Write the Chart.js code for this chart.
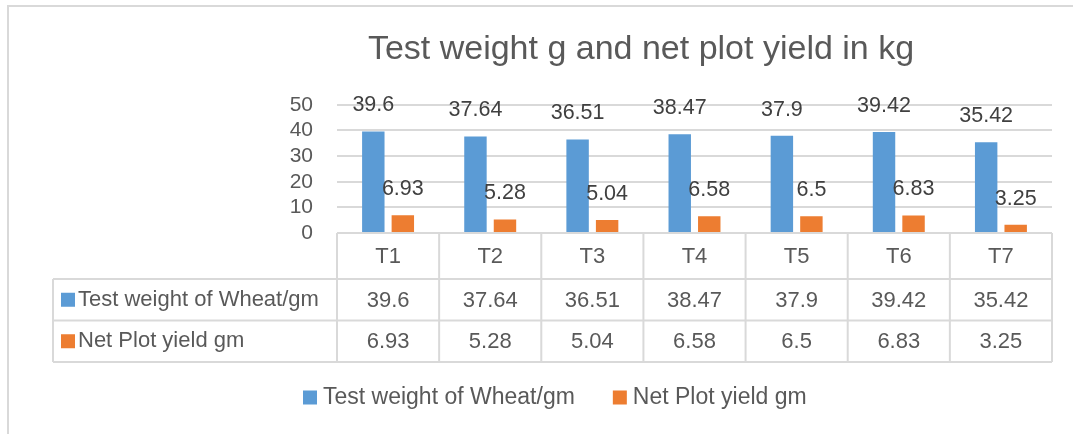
<!DOCTYPE html>
<html>
<head>
<meta charset="utf-8">
<script src="https://cdn.jsdelivr.net/npm/chart.js@4.4.1/dist/chart.umd.min.js"></script>
<style>
  html, body { margin: 0; padding: 0; background: #ffffff; overflow: hidden; }
  #wrap { position: relative; width: 1073px; height: 434px; }
  #frame { position: absolute; left: 7px; top: 5px; right: -4px; bottom: -4px;
           border-left: 2px solid #d9d9d9; border-top: 2px solid #d9d9d9; }
  canvas { position: absolute; left: 0; top: 0; }
</style>
</head>
<body>
<div id="wrap">
  <div id="frame"></div>
  <canvas id="chart" width="1073" height="434"></canvas>
</div>
<script>
const categories = ['T1', 'T2', 'T3', 'T4', 'T5', 'T6', 'T7'];
const testWeight = [39.6, 37.64, 36.51, 38.47, 37.9, 39.42, 35.42];
const netPlotYield = [6.93, 5.28, 5.04, 6.58, 6.5, 6.83, 3.25];
const yTicks = [0, 10, 20, 30, 40, 50];

const FONT = '"Liberation Sans", Arial, sans-serif';
const textGrey = '#595959';
const lineGrey = '#d9d9d9';

// value labels above each bar
const barLabels = {
    id: 'barLabels',
    afterDatasetsDraw(chart) {
        const ctx = chart.ctx;
        ctx.save();
        ctx.font = '21.5px ' + FONT;
        ctx.fillStyle = '#404040';
        ctx.textAlign = 'center';
        ctx.textBaseline = 'middle';
        chart.data.datasets.forEach((ds, di) => {
            chart.getDatasetMeta(di).data.forEach((bar, i) => {
                ctx.fillText(String(ds.data[i]), bar.x, bar.y - 26);
            });
        });
        ctx.restore();
    }
};

// data table under the plot + legend at the bottom
const dataTable = {
    id: 'dataTable',
    afterDraw(chart) {
        const ctx = chart.ctx;
        const area = chart.chartArea;
        const n = chart.data.labels.length;
        const colW = (area.right - area.left) / n;
        const tableLeft = 53;
        const rowH = [46, 41.5, 41.5];
        const y0 = area.bottom;
        const y1 = y0 + rowH[0];
        const y2 = y1 + rowH[1];
        const y3 = y2 + rowH[2];

        ctx.save();
        ctx.strokeStyle = lineGrey;
        ctx.lineWidth = 2;
        ctx.beginPath();
        ctx.moveTo(area.left, y0); ctx.lineTo(area.right, y0);
        [y1, y2, y3].forEach(y => { ctx.moveTo(tableLeft, y); ctx.lineTo(area.right, y); });
        for (let k = 0; k <= n; k++) {
            const x = area.left + k * colW;
            ctx.moveTo(x, y0); ctx.lineTo(x, y3);
        }
        ctx.moveTo(tableLeft, y1); ctx.lineTo(tableLeft, y3);
        ctx.stroke();

        ctx.font = '22px ' + FONT;
        ctx.fillStyle = textGrey;
        ctx.textAlign = 'center';
        ctx.textBaseline = 'middle';
        chart.data.labels.forEach((lab, i) => {
            const cx = area.left + (i + 0.5) * colW;
            ctx.fillText(lab, cx, (y0 + y1) / 2 + 1);
            ctx.fillText(String(chart.data.datasets[0].data[i]), cx, (y1 + y2) / 2 + 1);
            ctx.fillText(String(chart.data.datasets[1].data[i]), cx, (y2 + y3) / 2 + 1);
        });

        const rowMid = [(y1 + y2) / 2, (y2 + y3) / 2];
        chart.data.datasets.forEach((ds, di) => {
            ctx.fillStyle = ds.backgroundColor;
            ctx.fillRect(61, rowMid[di] - 7, 14, 14);
            ctx.fillStyle = textGrey;
            ctx.textAlign = 'left';
            ctx.fillText(ds.label, 78, rowMid[di]);
        });

        // legend
        ctx.font = '23px ' + FONT;
        let lx = 303;
        const ly = 397.5;
        chart.data.datasets.forEach((ds) => {
            ctx.fillStyle = ds.backgroundColor;
            ctx.fillRect(lx, ly - 7, 14, 14);
            ctx.fillStyle = textGrey;
            ctx.textAlign = 'left';
            ctx.fillText(ds.label, lx + 20, ly);
            lx += 20 + ctx.measureText(ds.label).width + 38;
        });
        ctx.restore();
    }
};

new Chart(document.getElementById('chart'), {
    type: 'bar',
    data: {
        labels: categories,
        datasets: [
            { label: 'Test weight of Wheat/gm', data: testWeight, backgroundColor: '#5b9bd5',
              categoryPercentage: 0.578, barPercentage: 0.76 },
            { label: 'Net Plot yield gm', data: netPlotYield, backgroundColor: '#ed7d31',
              categoryPercentage: 0.578, barPercentage: 0.76 }
        ]
    },
    options: {
        responsive: false,
        animation: false,
        layout: { padding: { left: 230, right: 21, top: 0, bottom: 201 } },
        plugins: {
            legend: { display: false },
            tooltip: { enabled: false },
            title: {
                display: true,
                text: 'Test weight g and net plot yield in kg',
                color: textGrey,
                font: { family: FONT, size: 34, weight: 'normal' },
                padding: { top: 29, bottom: 35 }
            }
        },
        scales: {
            x: { display: false },
            y: {
                min: 0, max: 50,
                afterBuildTicks: (scale) => { scale.ticks = yTicks.map(v => ({ value: v })); },
                afterFit: (scale) => { scale.width = 107; },
                border: { display: false },
                grid: { color: lineGrey, lineWidth: 2, drawTicks: false },
                ticks: { color: textGrey, padding: 24, autoSkip: false, font: { family: FONT, size: 21 } }
            }
        }
    },
    plugins: [barLabels, dataTable]
});
</script>
</body>
</html>
